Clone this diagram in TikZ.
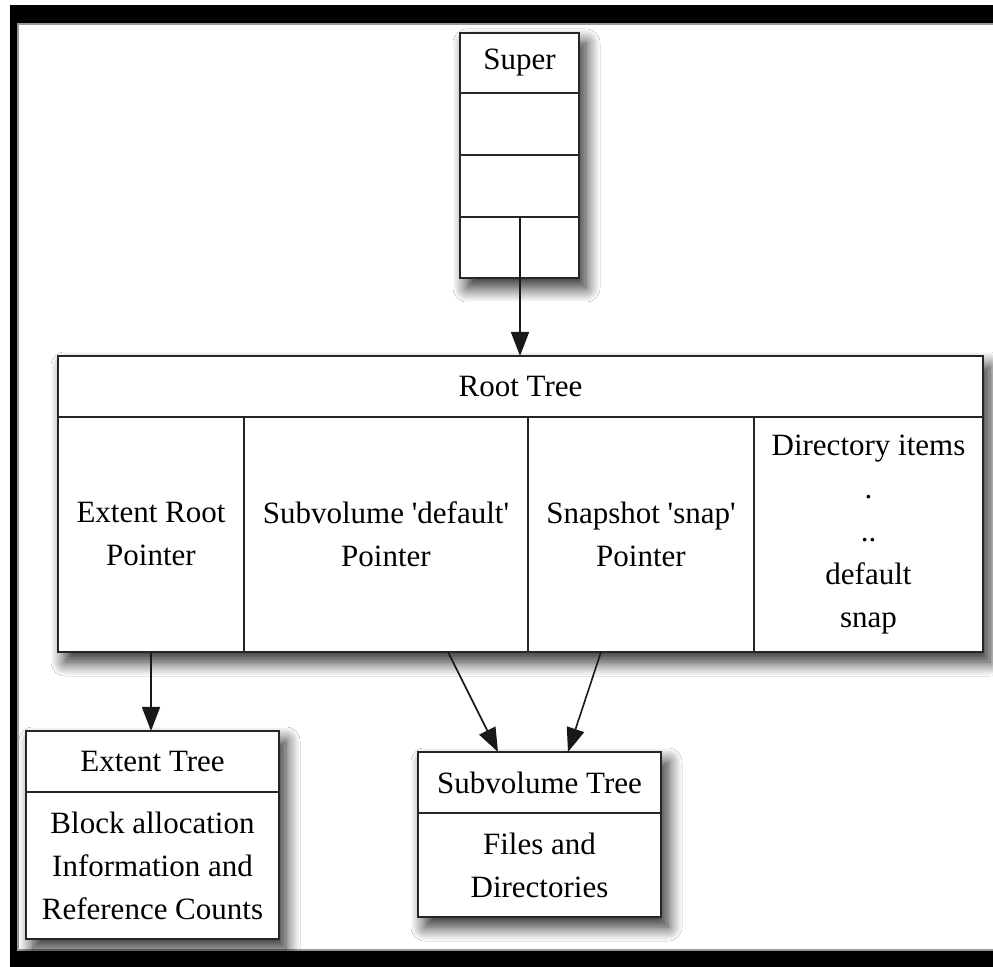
\documentclass[tikz,border=0pt]{standalone}
\usepackage{fontspec}
\setmainfont{Liberation Serif}
\usetikzlibrary{arrows.meta,shadows.blur}
\begin{document}
\begin{tikzpicture}[x=0.5pt,y=-0.5pt,
  cell/.style={draw=black!85,line width=1pt,fill=white,inner sep=0pt,outer sep=0pt,align=center,font=\fontsize{15.5}{21.5}\selectfont},
  outerbox/.style={fill=white,inner sep=0pt,outer sep=0pt,blur shadow={shadow xshift=3.5pt,shadow yshift=-5pt,shadow blur radius=7pt,shadow blur steps=12,shadow opacity=85}},
  arr/.style={line width=0.8pt,black!90,-{Triangle[length=12pt,width=9pt]}}]
\useasboundingbox (0,0) rectangle (993,967);
\fill[black] (10,5) rectangle (993,967);
\fill[white] (17,23) rectangle (993,951);
\draw[black!40,line width=0.8pt] (18,951) -- (18,24) -- (993,24);
\draw[black!40,line width=0.8pt] (18,950) -- (993,950);
% outer boxes with shadows
\node[outerbox,minimum width=59.5pt,minimum height=122.5pt] (superbox) at (519.5,155.5) {};
\node[outerbox,minimum width=462.5pt,minimum height=148pt] (rootbox) at (520.5,504) {};
\node[outerbox,minimum width=126.5pt,minimum height=104pt] (extbox) at (152.5,835) {};
\node[outerbox,minimum width=121.5pt,minimum height=82.5pt] (subbox) at (539.5,834.5) {};
% super block
\node[cell,minimum width=59.5pt,minimum height=30pt] (super) at (519.5,63) {Super};
\node[cell,minimum width=59.5pt,minimum height=31pt] (sa) at (519.5,124) {};
\node[cell,minimum width=59.5pt,minimum height=31pt] (sb) at (519.5,186) {};
\node[cell,minimum width=30pt,minimum height=30.5pt] (sc) at (490,247.5) {};
\node[cell,minimum width=29.5pt,minimum height=30.5pt] (sd) at (549.5,247.5) {};
% root tree
\node[cell,minimum width=462.5pt,minimum height=30.5pt] (roothead) at (520.5,386.5) {Root Tree};
\node[cell,minimum width=93pt,minimum height=117.5pt] (c1) at (151,534.5) {Extent Root\\Pointer};
\node[cell,minimum width=142pt,minimum height=117.5pt] (c2) at (386,534.5) {Subvolume \textquotesingle default\textquotesingle\\Pointer};
\node[cell,minimum width=113pt,minimum height=117.5pt] (c3) at (641,534.5) {Snapshot \textquotesingle snap\textquotesingle\\Pointer};
\node[cell,minimum width=114.5pt,minimum height=117.5pt] (c4) at (868.5,534.5) {Directory items\\.\\..\\default\\snap};
% extent tree
\node[cell,minimum width=126.5pt,minimum height=30.5pt] (exthead) at (152.5,761.5) {Extent Tree};
\node[cell,minimum width=126.5pt,minimum height=73.5pt] (extbody) at (152.5,865.5) {Block allocation\\Information and\\Reference Counts};
% subvolume tree
\node[cell,minimum width=121.5pt,minimum height=30.5pt] (subhead) at (539.5,782.5) {Subvolume Tree};
\node[cell,minimum width=121.5pt,minimum height=52pt] (subbody) at (539.5,865) {Files and\\Directories};
% arrows
\draw[arr] (sc.north east) -- (sc.north east |- roothead.north);
\draw[arr] (c1.south) -- (c1.south |- exthead.north);
\draw[arr] ([xshift=31pt]c2.south) -- ([xshift=-20.75pt]subhead.north);
\draw[arr] ([xshift=-20pt]c3.south) -- ([xshift=14.25pt]subhead.north);
\end{tikzpicture}
\end{document}
